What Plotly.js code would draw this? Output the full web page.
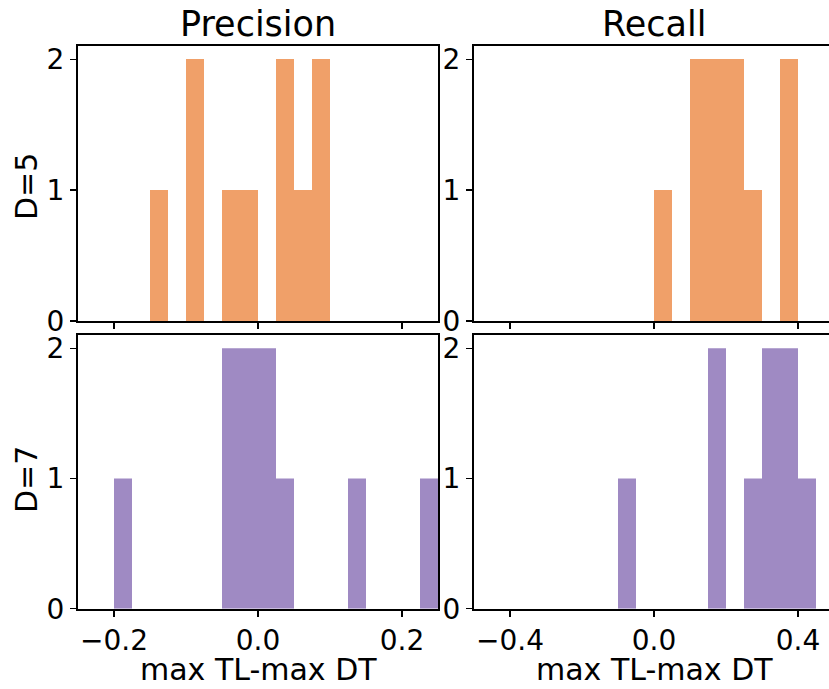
<!DOCTYPE html>
<html>
<head>
<meta charset="utf-8">
<script src="https://cdn.plot.ly/plotly-3.0.1.min.js"></script>
<style>
html,body{margin:0;padding:0;background:#fff;}
#chart{width:829px;height:689px;}
</style>
</head>
<body>
<div id="chart"></div>
<script>
// ---- data ----
const columnTitles = ["Precision", "Recall"];
const rowTitles = ["D=5", "D=7"];
const xAxisTitle = "max TL-max DT";

// Precision, D=5 (bin width 0.025)
const precD5Edges = [-0.15, -0.125, -0.1, -0.075, -0.05, -0.025, 0.0, 0.025, 0.05, 0.075];
const precD5Counts = [1, 0, 2, 0, 1, 1, 0, 2, 1, 2];
const precD5Width = 0.025;

// Recall, D=5 (bin width 0.05)
const recD5Edges = [0.0, 0.05, 0.1, 0.15, 0.2, 0.25, 0.3, 0.35];
const recD5Counts = [1, 0, 2, 2, 2, 1, 0, 2];
const recD5Width = 0.05;

// Precision, D=7 (bin width 0.025)
const precD7Edges = [-0.2, -0.175, -0.15, -0.125, -0.1, -0.075, -0.05, -0.025, 0.0, 0.025, 0.05, 0.075, 0.1, 0.125, 0.15, 0.175, 0.2, 0.225];
const precD7Counts = [1, 0, 0, 0, 0, 0, 2, 2, 2, 1, 0, 0, 0, 1, 0, 0, 0, 1];
const precD7Width = 0.025;

// Recall, D=7 (bin width 0.05)
const recD7Edges = [-0.1, -0.05, 0.0, 0.05, 0.1, 0.15, 0.2, 0.25, 0.3, 0.35, 0.4];
const recD7Counts = [1, 0, 0, 0, 0, 2, 0, 1, 2, 2, 1];
const recD7Width = 0.05;

const precTickVals = [-0.2, 0.0, 0.2];
const precTickText = ["\u22120.2", "0.0", "0.2"];
const recTickVals = [-0.4, 0.0, 0.4];
const recTickText = ["\u22120.4", "0.0", "0.4"];
const yTickVals = [0, 1, 2];
const yTickText = ["0", "1", "2"];

// ---- styling ----
const ORANGE = "#F0A069";
const PURPLE = "#9F8AC3";
const FONT = "DejaVu Sans, Liberation Sans, sans-serif";
const W = 829, H = 689;
const px = v => v / W;
const py = v => 1 - v / H;

function barTrace(edges, counts, width, color, xa, ya) {
  return {
    type: "bar", x: edges, y: counts, width: width, offset: 0,
    xaxis: xa, yaxis: ya,
    marker: {color: color, line: {width: 0}},
    hoverinfo: "skip", showlegend: false
  };
}

const data = [
  barTrace(precD5Edges, precD5Counts, precD5Width, ORANGE, "x", "y"),
  barTrace(recD5Edges, recD5Counts, recD5Width, ORANGE, "x2", "y2"),
  barTrace(precD7Edges, precD7Counts, precD7Width, PURPLE, "x3", "y3"),
  barTrace(recD7Edges, recD7Counts, recD7Width, PURPLE, "x4", "y4")
];

const tickFont = {family: FONT, size: 28, color: "#000"};
const leftDom = [px(78), px(438)];
const rightDom = [px(474), 1];
const topDom = [py(321), py(46)];
const botDom = [py(608.7), py(335.3)];
const precRange = [-0.25, 0.25];
const recRange = [-0.5, 0.5 - (834 - 829) / 360];

function xAxis(dom, range, tv, tt, showLabels, anchor) {
  return {
    domain: dom, range: range, anchor: anchor,
    showline: true, linecolor: "#000", linewidth: 2, mirror: true,
    ticks: "outside", ticklen: 6, tickwidth: 1.2, tickcolor: "#000",
    tickvals: tv, ticktext: tt, showticklabels: showLabels,
    tickfont: tickFont, showgrid: false, zeroline: false, fixedrange: true
  };
}
function yAxis(dom, anchor, mirror) {
  return {
    domain: dom, range: [0, 2.1], anchor: anchor,
    showline: true, linecolor: "#000", linewidth: 2, mirror: mirror,
    ticks: "outside", ticklen: 6, tickwidth: 1.2, tickcolor: "#000",
    tickvals: yTickVals, ticktext: yTickText,
    tickfont: tickFont, showgrid: false, zeroline: false, fixedrange: true
  };
}

const annFont = {family: FONT, size: 30, color: "#000"};
const titleFont = {family: FONT, size: 35, color: "#000"};
const annotations = [
  {text: columnTitles[0], x: px(258), y: py(24), font: titleFont},
  {text: columnTitles[1], x: px(654), y: py(24), font: titleFont},
  {text: rowTitles[0], x: px(26), y: py(187), textangle: -90, font: annFont},
  {text: rowTitles[1], x: px(26), y: py(480), textangle: -90, font: annFont},
  {text: xAxisTitle, x: px(258), y: py(669), font: annFont},
  {text: xAxisTitle, x: px(654), y: py(669), font: annFont}
].map(a => Object.assign({xref: "paper", yref: "paper", showarrow: false,
  xanchor: "center", yanchor: "middle"}, a));

const layout = {
  width: W, height: H,
  margin: {l: 0, r: 0, t: 0, b: 0},
  paper_bgcolor: "#fff", plot_bgcolor: "#fff",
  font: {family: FONT, color: "#000"},
  showlegend: false,
  xaxis: xAxis(leftDom, precRange, precTickVals, precTickText, false, "y"),
  xaxis2: xAxis(rightDom, recRange, recTickVals, recTickText, false, "y2"),
  xaxis3: xAxis(leftDom, precRange, precTickVals, precTickText, true, "y3"),
  xaxis4: xAxis(rightDom, recRange, recTickVals, recTickText, true, "y4"),
  yaxis: yAxis(topDom, "x", true),
  yaxis2: yAxis(topDom, "x2", false),
  yaxis3: yAxis(botDom, "x3", true),
  yaxis4: yAxis(botDom, "x4", false),
  annotations: annotations
};

Plotly.newPlot("chart", data, layout, {displayModeBar: false, staticPlot: true});
</script>
</body>
</html>
